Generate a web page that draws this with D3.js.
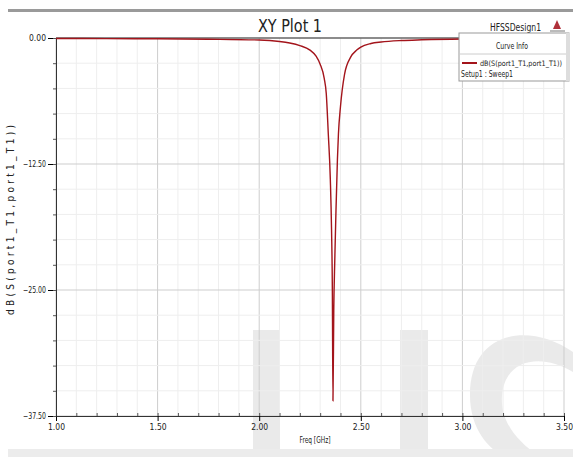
<!DOCTYPE html>
<html>
<head>
<meta charset="utf-8">
<script src="https://cdn.jsdelivr.net/npm/d3@7"></script>
<style>
  body { margin: 0; background: #fff; }
  svg text { font-family: "DejaVu Sans Condensed", "Liberation Sans Narrow", "Liberation Sans", sans-serif; fill: #222; }
</style>
</head>
<body>
<div id="chart"></div>
<script>
// curve: frequency (GHz) and dB(S11)
const freq = [1.00, 1.25, 1.50, 1.75, 2.00, 2.10, 2.15, 2.20, 2.25, 2.28, 2.30, 2.32, 2.33, 2.34, 2.35, 2.356, 2.36, 2.363,
              2.367, 2.372, 2.378, 2.385, 2.39, 2.40, 2.42, 2.45, 2.48, 2.50, 2.55, 2.60, 2.70, 2.80, 3.00, 3.25, 3.50];
const s11 = [-0.05, -0.06, -0.08, -0.12, -0.2, -0.35, -0.5, -0.75, -1.2, -1.8, -2.6, -4.0, -5.5, -9.5, -14, -19, -25, -36,
             -27, -22, -17, -12, -9.5, -6.8, -3.6, -1.9, -1.2, -0.9, -0.55, -0.4, -0.25, -0.18, -0.1, -0.07, -0.05];

const xTicks = [1.00, 1.50, 2.00, 2.50, 3.00, 3.50];
const yTicks = [0, -12.5, -25, -37.5];

const W = 573, H = 457;
const plot = {left: 56, right: 564, top: 38, bottom: 416};

const svg = d3.select("#chart").append("svg")
    .attr("width", W)
    .attr("height", H);

// watermark shapes behind everything
let wm = svg.append("g").attr("fill", "#d9d9d9").attr("opacity", 0.55);
wm.append("rect").attr("x", 253).attr("y", 330).attr("width", 27).attr("height", 127);
wm.append("rect").attr("x", 400).attr("y", 330).attr("width", 28).attr("height", 127);
wm.append("path")
    .attr("d", "M 573 352 C 530 322, 470 330, 470 395 C 470 430, 490 450, 505 457 L 540 457 C 515 440, 500 420, 502 395 C 505 360, 540 352, 573 372 Z");

// top gray bar and bottom band
svg.append("rect").attr("x", 8).attr("y", 9).attr("width", W - 8).attr("height", 3).attr("fill", "#9a9a9a");
svg.append("rect").attr("x", 8).attr("y", 449).attr("width", W - 8).attr("height", 8).attr("fill", "#ececec");

let x = d3.scaleLinear().domain([1, 3.5]).range([plot.left, plot.right]);
let y = d3.scaleLinear().domain([-37.5, 0]).range([plot.bottom, plot.top]);

// grid
let grid = svg.append("g");
grid.selectAll(".vminor")
    .data(d3.range(1, 3.501, 0.1))
    .enter().append("line")
    .attr("x1", d => x(d)).attr("x2", d => x(d))
    .attr("y1", plot.top).attr("y2", plot.bottom)
    .attr("stroke", d => Math.abs(d * 2 - Math.round(d * 2)) < 1e-6 ? "#cdcdcd" : "#eeeeee")
    .attr("stroke-width", 1);
grid.selectAll(".hminor")
    .data(d3.range(0, -37.51, -2.5))
    .enter().append("line")
    .attr("x1", plot.left).attr("x2", plot.right)
    .attr("y1", d => y(d)).attr("y2", d => y(d))
    .attr("stroke", d => Math.abs(d % 12.5) < 1e-6 ? "#cdcdcd" : "#eeeeee")
    .attr("stroke-width", 1);

// top line at 0 dB
svg.append("line")
    .attr("x1", plot.left).attr("x2", plot.right)
    .attr("y1", y(0)).attr("y2", y(0))
    .attr("stroke", "#333").attr("stroke-width", 1);

// axes
let xAxis = d3.axisBottom(x).tickValues(xTicks).tickFormat(d3.format(".2f")).tickSize(5).tickPadding(3);
let gx = svg.append("g").attr("transform", `translate(0,${plot.bottom})`).call(xAxis);
gx.select(".domain").attr("stroke", "#333");
gx.selectAll("text").attr("font-size", 9).attr("fill", "#333")
    .attr("textLength", 17).attr("lengthAdjust", "spacingAndGlyphs");

let xMinor = d3.axisTop(x).tickValues(d3.range(1, 3.501, 0.1)).tickFormat("").tickSize(3);
let gxm = svg.append("g").attr("transform", `translate(0,${plot.bottom})`).call(xMinor);
gxm.select(".domain").remove();
gxm.selectAll("line").attr("stroke", "#555");

let yAxis = d3.axisLeft(y).tickValues(yTicks).tickFormat(d3.format(".2f")).tickSize(8).tickPadding(2);
let gy = svg.append("g").attr("transform", `translate(${plot.left},0)`).call(yAxis);
gy.select(".domain").attr("stroke", "#333");
gy.selectAll("text").attr("font-size", 9).attr("fill", "#333")
    .attr("textLength", d => d === 0 ? 17 : 23).attr("lengthAdjust", "spacingAndGlyphs");

let yMinor = d3.axisLeft(y).tickValues(d3.range(0, -37.51, -2.5)).tickFormat("").tickSize(3);
let gym = svg.append("g").attr("transform", `translate(${plot.left},0)`).call(yMinor);
gym.select(".domain").remove();
gym.selectAll("line").attr("stroke", "#555");

// curve
let line = d3.line()
    .x(d => x(d[0]))
    .y(d => y(d[1]))
    .curve(d3.curveMonotoneX);

svg.append("path")
    .datum(d3.zip(freq, s11))
    .attr("d", line)
    .attr("fill", "none")
    .attr("stroke", "#a3141b")
    .attr("stroke-width", 1.4);

// small helper for squeezed labels
function label(g, px, py, txt, size, len, anchor) {
    return g.append("text").attr("x", px).attr("y", py)
        .attr("text-anchor", anchor || "start")
        .attr("font-size", size)
        .attr("textLength", len).attr("lengthAdjust", "spacingAndGlyphs")
        .text(txt);
}

// titles
label(svg, 290, 32, "XY Plot 1", 17, 64, "middle");
label(svg, 541, 31, "HFSSDesign1", 11, 51, "end");

// little logo
svg.append("path").attr("d", "M 553 29 L 557 20 L 561 29 Z").attr("fill", "#b0303a");
svg.append("line").attr("x1", 550).attr("x2", 565).attr("y1", 31).attr("y2", 31).attr("stroke", "#777");

label(svg, 315, 443, "Freq [GHz]", 9, 31, "middle");

svg.append("text")
    .attr("transform", "translate(14,220) rotate(-90)")
    .attr("text-anchor", "middle")
    .attr("font-size", 10)
    .attr("textLength", 190).attr("lengthAdjust", "spacing")
    .text("dB(S(port1_T1,port1_T1))");

// legend
let lg = svg.append("g");
lg.append("rect").attr("x", 459).attr("y", 33).attr("width", 110).attr("height", 48)
    .attr("fill", "#fff").attr("stroke", "#999");
lg.append("rect").attr("x", 566).attr("y", 33).attr("width", 4).attr("height", 48).attr("fill", "#ddd");
lg.append("line").attr("x1", 459).attr("x2", 566).attr("y1", 54).attr("y2", 54).attr("stroke", "#ccc");
label(lg, 512, 49, "Curve Info", 8, 32, "middle");
lg.append("line").attr("x1", 462).attr("x2", 477).attr("y1", 63).attr("y2", 63)
    .attr("stroke", "#a3141b").attr("stroke-width", 2);
label(lg, 480, 66, "dB(S(port1_T1,port1_T1))", 7.5, 82);
label(lg, 461, 77, "Setup1 : Sweep1", 8, 52);
</script>
</body>
</html>
